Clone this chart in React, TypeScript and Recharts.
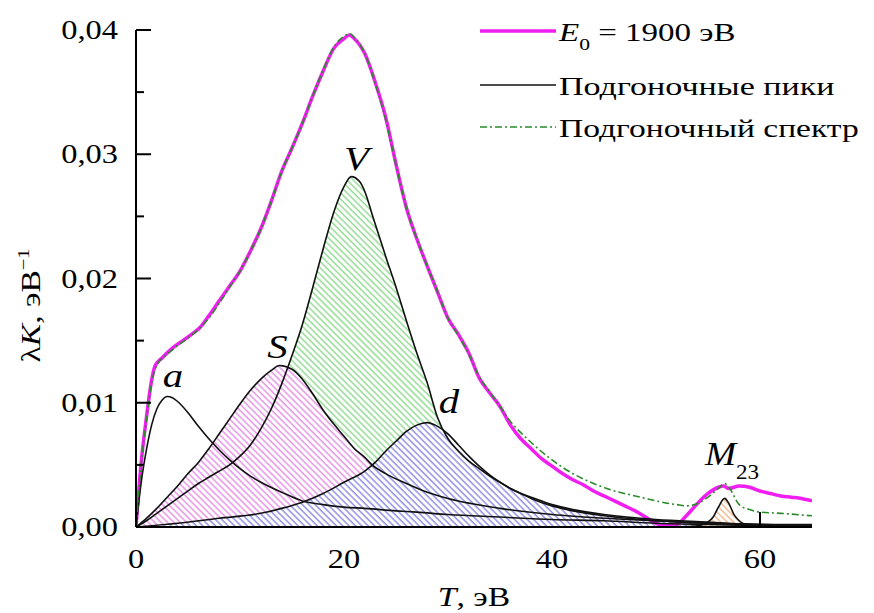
import React from 'react';
import { ComposedChart, XAxis, YAxis, Area, Line, Scatter, Legend } from 'recharts';

// ---------- data ----------
const spectrumT = [0, 0.5, 1, 1.5, 1.8, 2.5, 3.5, 4.5, 5.5, 6.2, 7, 8, 9, 10, 11, 12, 13, 14, 15, 16, 17, 18, 19, 20, 20.5, 21, 22, 23, 24, 25, 26, 27, 28, 29, 30, 31, 32, 33, 34, 35, 36, 37, 38, 39, 40, 41, 42, 43, 44, 45, 46, 47, 48, 49, 50, 51, 52, 52.8, 54, 55, 56, 56.5, 57, 58, 59, 60, 61, 62, 63, 64, 65];
const spectrumK = [0, 0.0052, 0.0088, 0.0118, 0.0129, 0.0136, 0.0144, 0.0150, 0.0156, 0.0161, 0.0170, 0.0182, 0.0194, 0.0206, 0.0222, 0.0240, 0.0262, 0.0286, 0.0305, 0.0325, 0.0347, 0.0367, 0.0385, 0.0393, 0.0396, 0.0393, 0.0381, 0.0358, 0.0330, 0.0292, 0.0257, 0.0232, 0.0210, 0.0189, 0.0168, 0.0155, 0.0140, 0.0120, 0.0108, 0.0097, 0.0082, 0.0071, 0.0063, 0.0055, 0.0049, 0.0043, 0.0038, 0.0034, 0.0029, 0.0025, 0.0021, 0.0017, 0.0013, 0.0008, 0.0003, 0.0001, 0.0002, 0.0008, 0.0019, 0.0027, 0.0032, 0.0033, 0.0031, 0.0033, 0.0032, 0.0029, 0.0027, 0.0025, 0.0024, 0.0023, 0.0021];

const fitT = [0, 0.5, 1, 1.5, 2, 3, 4, 5, 6, 7, 8, 9, 10, 11, 12, 13, 14, 15, 16, 17, 18, 19, 20, 20.6, 21, 22, 23, 24, 25, 26, 27, 28, 29, 30, 31, 32, 33, 34, 35, 36, 37, 38, 40, 42, 44, 46, 48, 50, 52, 53, 54, 55, 56, 56.6, 57, 58, 59, 60, 62, 65];
const fitK = [0, 0.005, 0.0086, 0.0116, 0.0130, 0.0139, 0.0146, 0.0152, 0.0159, 0.0168, 0.0180, 0.0193, 0.0206, 0.0222, 0.0240, 0.0262, 0.0286, 0.0305, 0.0325, 0.0347, 0.0368, 0.0386, 0.0395, 0.0397, 0.0394, 0.0381, 0.0357, 0.0328, 0.0291, 0.0257, 0.0232, 0.0210, 0.0189, 0.0168, 0.0154, 0.0139, 0.0121, 0.0109, 0.0097, 0.0085, 0.0076, 0.0068, 0.0054, 0.0043, 0.0035, 0.0029, 0.0025, 0.0021, 0.0018, 0.0017, 0.0019, 0.0024, 0.0031, 0.0035, 0.0032, 0.0018, 0.0014, 0.0012, 0.0011, 0.0009];

const peakAT = [0, 0.5, 1, 1.5, 2, 2.5, 3, 3.5, 4, 5, 6, 7, 8, 9, 10, 11, 12, 14, 16, 18, 20, 22, 25, 27, 30, 35, 40, 45, 50, 55, 60, 65];
const peakAK = [0, 0.0036, 0.0062, 0.0082, 0.0095, 0.0102, 0.0105, 0.0104, 0.0101, 0.0092, 0.0081, 0.0071, 0.0062, 0.0054, 0.0047, 0.0041, 0.0036, 0.0028, 0.0021, 0.0018, 0.0016, 0.0015, 0.0013, 0.0012, 0.0010, 0.0008, 0.0006, 0.0005, 0.0003, 0.0002, 0.0001, 0.0001];

const peakST = [0, 1, 2, 3, 4, 5, 6, 7, 8, 9, 10, 11, 12, 13, 13.8, 15, 16, 17, 18, 19, 20, 21, 22, 22.7, 24, 26, 28, 30, 35, 40, 45, 50, 55, 60, 65];
const peakSK = [0, 0.0007, 0.0015, 0.0024, 0.0033, 0.0043, 0.0052, 0.0063, 0.0075, 0.0087, 0.0099, 0.0110, 0.0119, 0.0126, 0.0130, 0.0127, 0.0119, 0.0107, 0.0094, 0.0083, 0.0073, 0.0063, 0.0056, 0.0050, 0.0043, 0.0035, 0.0028, 0.0023, 0.0015, 0.0010, 0.0007, 0.0005, 0.0003, 0.0002, 0.0001];

const peakVT = [0, 1, 2, 3, 4, 5, 6, 7, 8, 9, 10, 11, 12, 13, 14, 15, 16, 17, 18, 19, 20, 20.7, 21.5, 22, 22.8, 23.5, 24, 25, 26, 27, 28, 29, 30, 31, 32, 33, 34, 35, 36, 37, 38, 40, 42, 45, 50, 55, 60, 65];
const peakVK = [0, 0.0005, 0.0011, 0.0017, 0.0023, 0.0029, 0.0035, 0.0040, 0.0045, 0.0050, 0.0057, 0.0066, 0.0079, 0.0095, 0.0115, 0.0138, 0.0163, 0.0193, 0.0224, 0.0253, 0.0274, 0.0282, 0.0278, 0.0270, 0.0249, 0.0231, 0.0218, 0.0193, 0.0166, 0.0140, 0.0116, 0.0088, 0.0071, 0.0061, 0.0053, 0.0047, 0.0041, 0.0036, 0.0031, 0.0027, 0.0024, 0.0018, 0.0014, 0.0010, 0.0006, 0.0004, 0.0002, 0.0002];

const peakDT = [0, 4, 8, 12, 14, 16, 18, 20, 22, 23, 24, 25, 26, 27, 28, 29, 30, 31, 32, 33, 34, 35, 36, 37, 38, 40, 42, 45, 50, 55, 60, 65];
const peakDK = [0, 0.0003, 0.0007, 0.0011, 0.0015, 0.0020, 0.0027, 0.0036, 0.0045, 0.0052, 0.0061, 0.0069, 0.0077, 0.0082, 0.0084, 0.0081, 0.0075, 0.0066, 0.0057, 0.0049, 0.0042, 0.0036, 0.0031, 0.0027, 0.0023, 0.0017, 0.0013, 0.0009, 0.0005, 0.0003, 0.0002, 0.0001];

const peakMT = [50, 53, 54, 55, 55.5, 56, 56.6, 57, 57.5, 58, 59, 60, 65];
const peakMK = [0, 0.00003, 0.0001, 0.0004, 0.0008, 0.0016, 0.0023, 0.0019, 0.0010, 0.0005, 0.0001, 0, 0];

const xTicks = [0, 20, 40, 60];
const xTickMarks = [60]; // the other x tick marks sit under the hatched fills
const yTicks = [0, 0.005, 0.01, 0.015, 0.02, 0.025, 0.03, 0.035, 0.04];

const annoT = [3.55, 13.6, 21.2, 30.1, 54.7];
const annoK = [0.0113, 0.0136, 0.0287, 0.0092, 0.005];
const annoText = ['a', 'S', 'V', 'd', 'M'];
const annoSub = ['', '', '', '', '23'];

const legendLabels = ['= 1900 эВ', 'Подгоночные пики', 'Подгоночный спектр'];

// ---------- helpers ----------
const pts = (xs: number[], ys: number[]) => xs.map((x, i) => ({ x, y: ys[i] }));
const spectrum = pts(spectrumT, spectrumK);
const fit = pts(fitT, fitK);
const peakA = pts(peakAT, peakAK);
const peakS = pts(peakST, peakSK);
const peakV = pts(peakVT, peakVK);
const peakD = pts(peakDT, peakDK);
const peakM = pts(peakMT, peakMK);
const annotations = annoT.map((x, i) => ({ x, y: annoK[i], label: annoText[i], sub: annoSub[i] }));

const FONT = '"Liberation Serif", Tinos, "Times New Roman", "Noto Serif", "DejaVu Serif", FreeSerif, serif';
const TXT = { fontFamily: FONT } as React.CSSProperties;
const MAGENTA = '#f01ef0';
const GREEN = '#2a8a2a';
const SX = 1.2; // the reference lettering is a little wider than the font

const fmt = (v: number) => v.toFixed(2).replace('.', ',');

// text stretched horizontally around its anchor point
const WText = ({ x, y, anchor = 'start', size, children, italic = false, sx = SX }: any) => (
  <text
    transform={`translate(${x} ${y}) scale(${sx} 1)`}
    x={0}
    y={0}
    textAnchor={anchor}
    style={TXT}
    fontSize={size}
    fontStyle={italic ? 'italic' : 'normal'}
    fill="#000"
  >
    {children}
  </text>
);

const YTick = (props: any) => {
  const { x, y, payload } = props;
  const v = payload.value as number;
  const major = Math.abs(v * 100 - Math.round(v * 100)) < 1e-6;
  return (
    <g>
      <line x1={x} x2={x + (major ? 15 : 8)} y1={y} y2={y} stroke="#000" strokeWidth={2} />
      {major && (
        <WText x={x - 18} y={y + 9} anchor="end" size={27}>
          {fmt(v)}
        </WText>
      )}
    </g>
  );
};

const XTick = (props: any) => {
  const { x, y, payload } = props;
  return (
    <g>
      {xTickMarks.includes(payload.value) && <line x1={x} x2={x} y1={y} y2={y - 15} stroke="#000" strokeWidth={2} />}
      <WText x={x} y={y + 41} anchor="middle" size={27}>
        {payload.value}
      </WText>
    </g>
  );
};

const YLabel = (props: any) => {
  const vb = props.viewBox || { x: 0, y: 30, width: 136, height: 497 };
  const cx = vb.x + 40;
  const cy = vb.y + vb.height / 2 + 27;
  return (
    <text
      transform={`translate(${cx} ${cy}) rotate(-90) scale(${SX} 1)`}
      x={0}
      y={0}
      textAnchor="middle"
      style={TXT}
      fontSize={28}
      fill="#000"
    >
      λ<tspan fontStyle="italic">K</tspan>, эВ<tspan fontSize={17} dy={-11}>−1</tspan>
    </text>
  );
};

const XLabel = (props: any) => {
  const vb = props.viewBox || { x: 136, y: 527, width: 676, height: 86 };
  return (
    <WText x={vb.x + vb.width / 2} y={vb.y + 79} anchor="middle" size={28}>
      <tspan fontStyle="italic">T</tspan>, эВ
    </WText>
  );
};

const AnnoShape = (props: any) => {
  const { cx, cy, payload } = props;
  const hasSub = !!payload.sub;
  return (
    <WText x={cx} y={cy} anchor={hasSub ? 'start' : 'middle'} size={34} italic sx={hasSub ? 1.1 : SX}>
      {payload.label}
      {hasSub && (
        <tspan fontStyle="normal" fontSize={21} dy={14}>
          {payload.sub}
        </tspan>
      )}
    </WText>
  );
};

const LegendContent = () => {
  const rows = [
    { y: 31, color: MAGENTA, w: 3.5, dash: undefined as string | undefined, ty: 41, sx: 1.27 },
    { y: 85, color: '#111', w: 1.6, dash: undefined, ty: 95, sx: 1.31 },
    { y: 127, color: GREEN, w: 1.6, dash: '7 3 2 3', ty: 137, sx: 1.29 },
  ];
  return (
    <svg width={404} height={150} style={{ display: 'block' }}>
      {rows.map((r, i) => (
        <g key={i}>
          <line x1={10} x2={86} y1={r.y} y2={r.y} stroke={r.color} strokeWidth={r.w} strokeDasharray={r.dash} />
          <WText x={89} y={r.ty} size={26} sx={r.sx}>
            {i === 0 ? (
              <>
                <tspan fontStyle="italic">E</tspan>
                <tspan fontSize={17} dy={9}>0</tspan>
                <tspan dy={-9}> {legendLabels[0]}</tspan>
              </>
            ) : (
              legendLabels[i]
            )}
          </WText>
        </g>
      ))}
    </svg>
  );
};

const Hatch = ({ id, color }: { id: string; color: string }) => (
  <pattern id={id} patternUnits="userSpaceOnUse" width={4.5} height={4.5} patternTransform="rotate(-45)">
    <rect width={4.5} height={4.5} fill="#fff" />
    <line x1={1} y1={0} x2={1} y2={4.5} stroke={color} strokeWidth={1.1} />
  </pattern>
);

export default function App() {
  return (
    <div style={{ position: 'absolute', left: 0, top: 0, width: 874, height: 613, background: '#fff' }}>
      <ComposedChart width={874} height={613} margin={{ top: 30, right: 62, bottom: 0, left: 0 }}>
        <defs>
          <Hatch id="hatchV" color="#6fd06f" />
          <Hatch id="hatchS" color="#e070e0" />
          <Hatch id="hatchD" color="#6a6ad8" />
          <Hatch id="hatchM" color="#eca46a" />
        </defs>
        <XAxis
          type="number"
          dataKey="x"
          domain={[0, 65]}
          ticks={xTicks}
          allowDataOverflow
          height={86}
          tickSize={0}
          tickMargin={0}
          tickLine={false}
          axisLine={{ stroke: '#000', strokeWidth: 2 }}
          tick={<XTick />}
          label={{ content: <XLabel /> }}
        />
        <YAxis
          type="number"
          dataKey="y"
          domain={[0, 0.04]}
          ticks={yTicks}
          allowDataOverflow
          width={136}
          tickSize={0}
          tickMargin={0}
          tickLine={false}
          axisLine={{ stroke: '#000', strokeWidth: 2 }}
          tick={<YTick />}
          label={{ content: <YLabel /> }}
        />
        <Area data={peakV} dataKey="y" type="monotone" stroke="none" fill="url(#hatchV)" fillOpacity={1} isAnimationActive={false} />
        <Area data={peakS} dataKey="y" type="monotone" stroke="none" fill="url(#hatchS)" fillOpacity={1} isAnimationActive={false} />
        <Area data={peakD} dataKey="y" type="monotone" stroke="none" fill="url(#hatchD)" fillOpacity={1} isAnimationActive={false} />
        <Area data={peakM} dataKey="y" type="monotone" stroke="none" fill="url(#hatchM)" fillOpacity={1} isAnimationActive={false} />
        <Line data={spectrum} dataKey="y" type="monotone" stroke={MAGENTA} strokeWidth={3.5} dot={false} isAnimationActive={false} />
        <Line data={peakA} dataKey="y" type="monotone" stroke="#111" strokeWidth={1.6} dot={false} isAnimationActive={false} />
        <Line data={peakS} dataKey="y" type="monotone" stroke="#111" strokeWidth={1.6} dot={false} isAnimationActive={false} />
        <Line data={peakV} dataKey="y" type="monotone" stroke="#111" strokeWidth={1.6} dot={false} isAnimationActive={false} />
        <Line data={peakD} dataKey="y" type="monotone" stroke="#111" strokeWidth={1.6} dot={false} isAnimationActive={false} />
        <Line data={peakM} dataKey="y" type="monotone" stroke="#111" strokeWidth={1.6} dot={false} isAnimationActive={false} />
        <Line data={fit} dataKey="y" type="monotone" stroke={GREEN} strokeWidth={1.6} strokeDasharray="7 3 2 3" dot={false} isAnimationActive={false} />
        <Scatter data={annotations} dataKey="y" shape={<AnnoShape />} isAnimationActive={false} />
        <Legend
          layout="vertical"
          align="center"
          verticalAlign="middle"
          content={<LegendContent />}
          wrapperStyle={{ left: 470, top: 0, width: 404, height: 150 }}
        />
      </ComposedChart>
    </div>
  );
}
